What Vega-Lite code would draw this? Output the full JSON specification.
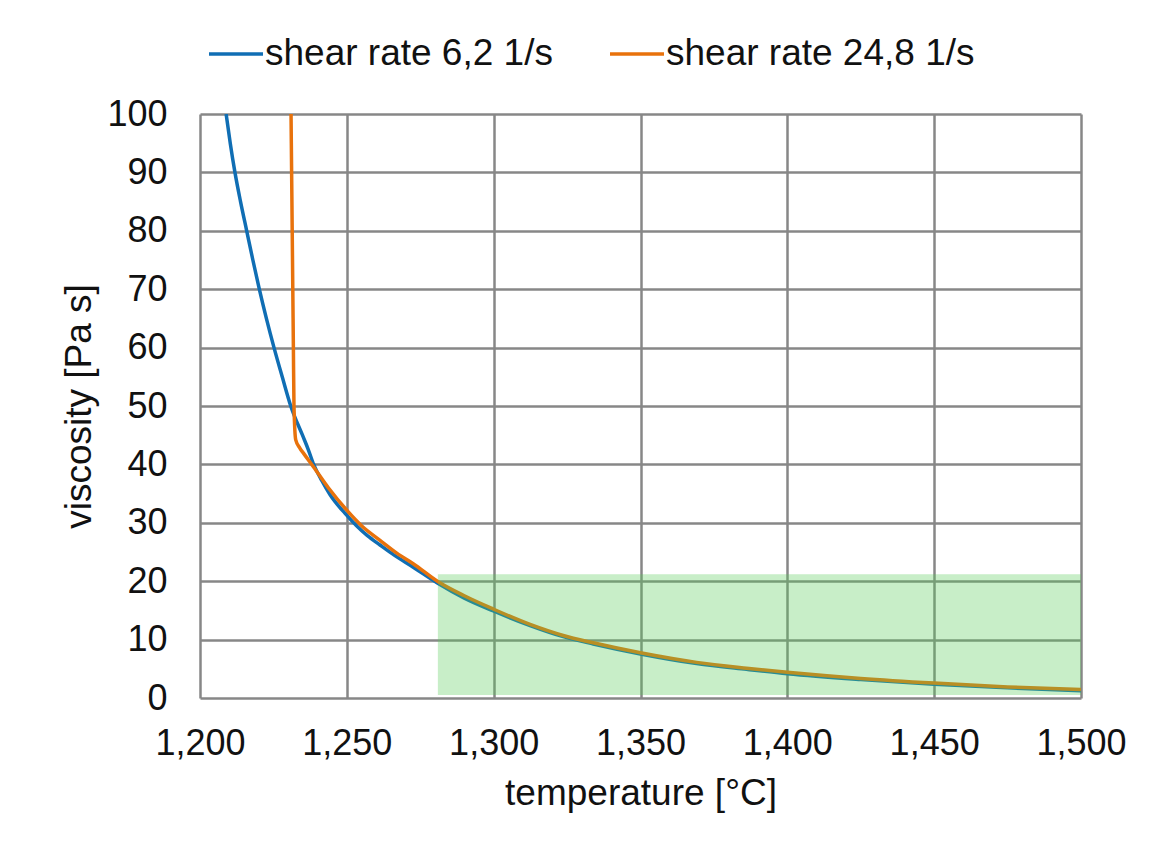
{
  "$schema": "https://vega.github.io/schema/vega-lite/v6.json",
  "width": 881,
  "height": 584,
  "autosize": {"type": "none"},
  "padding": {"left": 200, "top": 114, "right": 69, "bottom": 145},
  "background": "white",
  "datasets": {
    "lines": [
      {"series": "shear rate 6,2 1/s", "T": 1208.9, "v": 100},
      {"series": "shear rate 6,2 1/s", "T": 1210.3, "v": 95},
      {"series": "shear rate 6,2 1/s", "T": 1211.9, "v": 90},
      {"series": "shear rate 6,2 1/s", "T": 1213.8, "v": 85},
      {"series": "shear rate 6,2 1/s", "T": 1215.9, "v": 80},
      {"series": "shear rate 6,2 1/s", "T": 1218.0, "v": 75},
      {"series": "shear rate 6,2 1/s", "T": 1220.2, "v": 70},
      {"series": "shear rate 6,2 1/s", "T": 1222.6, "v": 65},
      {"series": "shear rate 6,2 1/s", "T": 1225.2, "v": 60},
      {"series": "shear rate 6,2 1/s", "T": 1228.0, "v": 55},
      {"series": "shear rate 6,2 1/s", "T": 1230.9, "v": 50},
      {"series": "shear rate 6,2 1/s", "T": 1234.9, "v": 45},
      {"series": "shear rate 6,2 1/s", "T": 1236.9, "v": 42.5},
      {"series": "shear rate 6,2 1/s", "T": 1238.7, "v": 40},
      {"series": "shear rate 6,2 1/s", "T": 1241.5, "v": 37.2},
      {"series": "shear rate 6,2 1/s", "T": 1244.3, "v": 34.8},
      {"series": "shear rate 6,2 1/s", "T": 1249.4, "v": 31.6},
      {"series": "shear rate 6,2 1/s", "T": 1253.3, "v": 29.5},
      {"series": "shear rate 6,2 1/s", "T": 1257.0, "v": 27.8},
      {"series": "shear rate 6,2 1/s", "T": 1261.3, "v": 26.2},
      {"series": "shear rate 6,2 1/s", "T": 1266.0, "v": 24.5},
      {"series": "shear rate 6,2 1/s", "T": 1272.6, "v": 22.4},
      {"series": "shear rate 6,2 1/s", "T": 1281.1, "v": 19.6},
      {"series": "shear rate 6,2 1/s", "T": 1290.0, "v": 17.1},
      {"series": "shear rate 6,2 1/s", "T": 1299.9, "v": 14.9},
      {"series": "shear rate 6,2 1/s", "T": 1312.4, "v": 12.4},
      {"series": "shear rate 6,2 1/s", "T": 1323.7, "v": 10.5},
      {"series": "shear rate 6,2 1/s", "T": 1333.9, "v": 9.25},
      {"series": "shear rate 6,2 1/s", "T": 1350.4, "v": 7.5},
      {"series": "shear rate 6,2 1/s", "T": 1369.1, "v": 5.9},
      {"series": "shear rate 6,2 1/s", "T": 1386.1, "v": 4.9},
      {"series": "shear rate 6,2 1/s", "T": 1400.0, "v": 4.15},
      {"series": "shear rate 6,2 1/s", "T": 1425.0, "v": 3.15},
      {"series": "shear rate 6,2 1/s", "T": 1450.0, "v": 2.35},
      {"series": "shear rate 6,2 1/s", "T": 1475.0, "v": 1.75},
      {"series": "shear rate 6,2 1/s", "T": 1500.0, "v": 1.22},
      {"series": "shear rate 24,8 1/s", "T": 1231.0, "v": 100},
      {"series": "shear rate 24,8 1/s", "T": 1231.2, "v": 90},
      {"series": "shear rate 24,8 1/s", "T": 1231.4, "v": 80},
      {"series": "shear rate 24,8 1/s", "T": 1231.6, "v": 70},
      {"series": "shear rate 24,8 1/s", "T": 1231.8, "v": 60},
      {"series": "shear rate 24,8 1/s", "T": 1232.0, "v": 50},
      {"series": "shear rate 24,8 1/s", "T": 1232.6, "v": 44.2},
      {"series": "shear rate 24,8 1/s", "T": 1234.0, "v": 42.8},
      {"series": "shear rate 24,8 1/s", "T": 1235.4, "v": 41.8},
      {"series": "shear rate 24,8 1/s", "T": 1238.6, "v": 39.6},
      {"series": "shear rate 24,8 1/s", "T": 1243.7, "v": 36.0},
      {"series": "shear rate 24,8 1/s", "T": 1249.9, "v": 32.2},
      {"series": "shear rate 24,8 1/s", "T": 1255.0, "v": 29.5},
      {"series": "shear rate 24,8 1/s", "T": 1261.3, "v": 27.0},
      {"series": "shear rate 24,8 1/s", "T": 1267.0, "v": 24.8},
      {"series": "shear rate 24,8 1/s", "T": 1272.6, "v": 23.0},
      {"series": "shear rate 24,8 1/s", "T": 1281.1, "v": 19.9},
      {"series": "shear rate 24,8 1/s", "T": 1290.0, "v": 17.5},
      {"series": "shear rate 24,8 1/s", "T": 1300.0, "v": 15.2},
      {"series": "shear rate 24,8 1/s", "T": 1312.4, "v": 12.6},
      {"series": "shear rate 24,8 1/s", "T": 1323.7, "v": 10.7},
      {"series": "shear rate 24,8 1/s", "T": 1333.9, "v": 9.45},
      {"series": "shear rate 24,8 1/s", "T": 1350.4, "v": 7.7},
      {"series": "shear rate 24,8 1/s", "T": 1369.1, "v": 6.1},
      {"series": "shear rate 24,8 1/s", "T": 1386.1, "v": 5.1},
      {"series": "shear rate 24,8 1/s", "T": 1400.0, "v": 4.4},
      {"series": "shear rate 24,8 1/s", "T": 1425.0, "v": 3.35},
      {"series": "shear rate 24,8 1/s", "T": 1450.0, "v": 2.55},
      {"series": "shear rate 24,8 1/s", "T": 1475.0, "v": 1.9},
      {"series": "shear rate 24,8 1/s", "T": 1500.0, "v": 1.45}
    ],
    "zone": [
      {"T1": 1281, "T2": 1500, "v1": 0.5, "v2": 21.2}
    ]
  },
  "layer": [
    {
      "data": {"name": "lines"},
      "mark": {"type": "line", "strokeWidth": 3.5, "clip": true, "interpolate": "monotone"},
      "encoding": {
        "x": {
          "field": "T", "type": "quantitative",
          "title": "temperature [°C]",
          "scale": {"domain": [1200, 1500], "nice": false, "zero": false},
          "axis": {
            "values": [1200, 1250, 1300, 1350, 1400, 1450, 1500],
            "format": ",d",
            "labelPadding": 28,
            "titlePadding": 14,
            "labelFlush": false,
            "labelOverlap": false
          }
        },
        "y": {
          "field": "v", "type": "quantitative",
          "title": "viscosity [Pa s]",
          "scale": {"domain": [0, 100], "nice": false},
          "axis": {
            "values": [0, 10, 20, 30, 40, 50, 60, 70, 80, 90, 100],
            "labelPadding": 33,
            "titlePadding": 8
          }
        },
        "color": {
          "field": "series", "type": "nominal",
          "sort": null,
          "scale": {
            "domain": ["shear rate 6,2 1/s", "shear rate 24,8 1/s"],
            "range": ["#106EB4", "#E8720C"]
          },
          "legend": {
            "title": null,
            "orient": "none",
            "legendX": 7,
            "legendY": -89,
            "direction": "horizontal",
            "symbolType": "stroke",
            "symbolSize": 2916,
            "symbolStrokeWidth": 3.5,
            "labelFontSize": 37,
            "labelFont": "Liberation Sans",
            "labelColor": "#111111",
            "labelLimit": 600,
            "labelOffset": 0,
            "columnPadding": 50,
            "padding": 0
          }
        },
        "order": {"field": "T", "type": "quantitative"}
      }
    },
    {
      "data": {"name": "zone"},
      "mark": {"type": "rect", "color": "#58CB58", "opacity": 0.33},
      "encoding": {
        "x": {"field": "T1", "type": "quantitative", "title": "temperature [°C]"},
        "x2": {"field": "T2"},
        "y": {"field": "v1", "type": "quantitative", "title": "viscosity [Pa s]"},
        "y2": {"field": "v2"}
      }
    }
  ],
  "config": {
    "font": "Liberation Sans",
    "view": {"stroke": null},
    "axis": {
      "domain": false,
      "ticks": false,
      "tickSize": 0,
      "grid": true,
      "gridColor": "#878787",
      "gridWidth": 2.5,
      "labelFont": "Liberation Sans",
      "labelFontSize": 36,
      "labelColor": "#111111",
      "titleFont": "Liberation Sans",
      "titleFontSize": 37,
      "titleFontWeight": "normal",
      "titleColor": "#111111"
    }
  }
}
